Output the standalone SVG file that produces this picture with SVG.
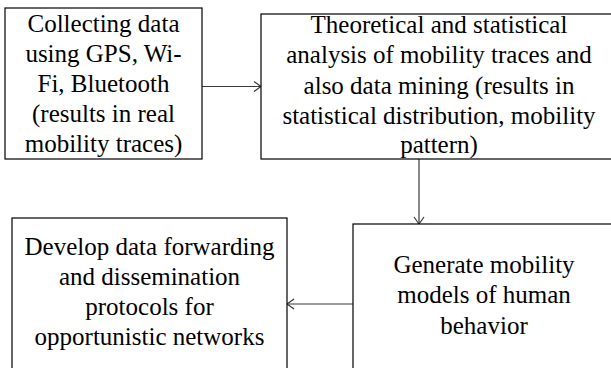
<svg xmlns="http://www.w3.org/2000/svg" width="611" height="368" viewBox="0 0 611 368">
<style>
.box{fill:#fff;stroke:#000;stroke-width:1.2}
.c{fill:none;stroke:#3a3a3a;stroke-width:1.2}
</style>
<defs>
<marker id="arr" markerUnits="userSpaceOnUse" markerWidth="12" markerHeight="14" refX="8" refY="6" orient="auto">
<path d="M1,1 L8,6 L1,11" fill="none" stroke="#3a3a3a" stroke-width="1.2"/>
</marker>
</defs>
<rect width="611" height="368" fill="#fff"/>
<g id="connectors">
<line class="c" x1="202" y1="86.5" x2="261" y2="86.5" marker-end="url(#arr)"/>
<line class="c" x1="419" y1="159" x2="419" y2="224" marker-end="url(#arr)"/>
<line class="c" x1="353" y1="304" x2="287" y2="304" marker-end="url(#arr)"/>
</g>
<g id="n1">
<rect class="box" x="5" y="8" width="197" height="151"/>
<text x="103.5" y="32" font-size="25" text-anchor="middle" font-family="'Liberation Serif'">Collecting data</text>
<text x="103.5" y="62" font-size="25" text-anchor="middle" font-family="'Liberation Serif'">using GPS, Wi-</text>
<text x="103.5" y="92" font-size="25" text-anchor="middle" font-family="'Liberation Serif'">Fi, Bluetooth</text>
<text x="103.5" y="122" font-size="25" text-anchor="middle" font-family="'Liberation Serif'">(results in real</text>
<text x="103.5" y="152" font-size="25" text-anchor="middle" font-family="'Liberation Serif'">mobility traces)</text>
</g>
<g id="n2">
<rect class="box" x="261" y="14" width="360" height="145"/>
<text x="439" y="33" font-size="25" text-anchor="middle" font-family="'Liberation Serif'">Theoretical and statistical</text>
<text x="439" y="63" font-size="25" text-anchor="middle" font-family="'Liberation Serif'">analysis of mobility traces and</text>
<text x="439" y="94" font-size="25" text-anchor="middle" font-family="'Liberation Serif'">also data mining (results in</text>
<text x="439" y="124" font-size="25" text-anchor="middle" font-family="'Liberation Serif'">statistical distribution, mobility</text>
<text x="439" y="153" font-size="25" text-anchor="middle" font-family="'Liberation Serif'">pattern)</text>
</g>
<g id="n3">
<rect class="box" x="353" y="224" width="270" height="160"/>
<text x="484" y="273" font-size="25" text-anchor="middle" font-family="'Liberation Serif'">Generate mobility</text>
<text x="484" y="303" font-size="25" text-anchor="middle" font-family="'Liberation Serif'">models of human</text>
<text x="484" y="334" font-size="25" text-anchor="middle" font-family="'Liberation Serif'">behavior</text>
</g>
<g id="n4">
<rect class="box" x="12" y="218" width="275" height="160"/>
<text x="149.5" y="255" font-size="25" text-anchor="middle" font-family="'Liberation Serif'">Develop data forwarding</text>
<text x="149.5" y="285" font-size="25" text-anchor="middle" font-family="'Liberation Serif'">and dissemination</text>
<text x="149.5" y="315" font-size="25" text-anchor="middle" font-family="'Liberation Serif'">protocols for</text>
<text x="149.5" y="345" font-size="25" text-anchor="middle" font-family="'Liberation Serif'">opportunistic networks</text>
</g>
</svg>
